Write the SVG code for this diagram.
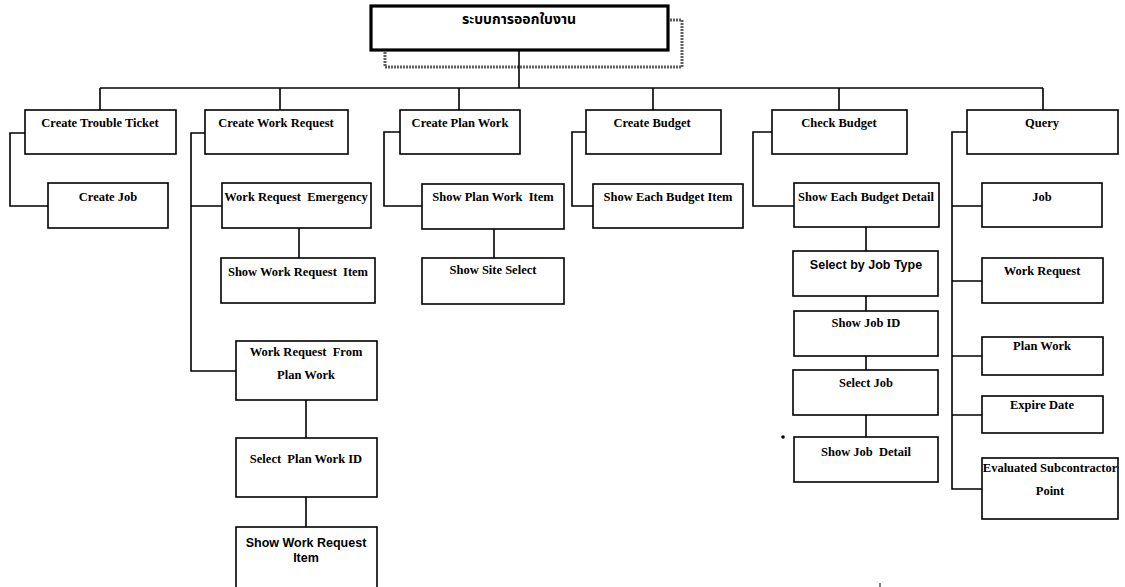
<svg xmlns="http://www.w3.org/2000/svg" width="1125" height="587" viewBox="0 0 1125 587">
  <style>
    .box { fill: #ffffff; stroke: #000000; stroke-width: 1.6; }
    .title-box { fill: #ffffff; stroke: #000000; stroke-width: 3.2; }
    .shadow { fill: none; stroke: #5e5e5e; stroke-width: 3; stroke-dasharray: 2 1; }
    .conn path { fill: none; stroke: #000000; stroke-width: 1.6; }
    text { font-family: "Liberation Serif", "Times New Roman", serif; font-size: 12.5px; font-weight: bold; fill: #000000; text-anchor: middle; white-space: pre; }
    text.sans { font-family: "Liberation Sans", Arial, sans-serif; font-size: 12.5px; }
    text.thai { font-family: "Noto Sans Thai", "Tlwg Typo", "Loma", "Garuda", "DejaVu Sans", sans-serif; font-size: 14px; }
  </style>

  <!-- root node with its offset frame -->
  <g id="root">
    <rect class="shadow" x="385" y="20" width="297" height="47"/>
    <rect class="title-box" x="371" y="6" width="297" height="44"/>
    <text class="thai" x="519" y="24">ระบบการออกใบงาน</text>
  </g>

  <!-- connectors -->
  <g id="connectors" class="conn">
    <path d="M519 50 V88"/>
    <path d="M100 88 H1043"/>
    <path d="M100 88 V110 M280 88 V110 M459 88 V110 M653 88 V110 M839 88 V110 M1043 88 V110"/>
    <!-- Create Trouble Ticket -->
    <path d="M25 133 H10 V206 H48"/>
    <!-- Create Work Request -->
    <path d="M205 133 H191 V371 H236 M191 206 H222"/>
    <path d="M299 228 V258"/>
    <path d="M306 400 V438 M306 497 V527"/>
    <!-- Create Plan Work -->
    <path d="M400 132 H384 V206 H422"/>
    <path d="M494 229 V258"/>
    <!-- Create Budget -->
    <path d="M586 132 H572 V206 H593"/>
    <!-- Check Budget -->
    <path d="M772 132 H753 V206 H794"/>
    <path d="M866 227 V251 M866 296 V311 M866 356 V370 M866 415 V437"/>
    <!-- Query -->
    <path d="M967 132 H952 V489 H982 M952 206 H982 M952 281 H982 M952 356 H982 M952 415 H982"/>
  </g>

  <!-- first level -->
  <g id="create-trouble-ticket">
    <rect class="box" x="25" y="110" width="151" height="44"/>
    <text x="100" y="127">Create Trouble Ticket</text>
  </g>
  <g id="create-work-request">
    <rect class="box" x="205" y="110" width="143" height="44"/>
    <text x="276" y="127">Create Work Request</text>
  </g>
  <g id="create-plan-work">
    <rect class="box" x="400" y="110" width="120" height="44"/>
    <text x="460" y="127">Create Plan Work</text>
  </g>
  <g id="create-budget">
    <rect class="box" x="586" y="110" width="135" height="44"/>
    <text x="652" y="127">Create Budget</text>
  </g>
  <g id="check-budget">
    <rect class="box" x="772" y="110" width="135" height="44"/>
    <text x="839" y="127">Check Budget</text>
  </g>
  <g id="query">
    <rect class="box" x="967" y="110" width="151" height="44"/>
    <text x="1042" y="127">Query</text>
  </g>

  <!-- Create Trouble Ticket branch -->
  <g id="create-job">
    <rect class="box" x="48" y="183" width="120" height="45"/>
    <text x="108" y="201">Create Job</text>
  </g>

  <!-- Create Work Request branch -->
  <g id="work-request-emergency">
    <rect class="box" x="222" y="183" width="149" height="45"/>
    <text x="296" y="201">Work Request  Emergency</text>
  </g>
  <g id="show-work-request-item">
    <rect class="box" x="221" y="258" width="154" height="45"/>
    <text x="298" y="276">Show Work Request  Item</text>
  </g>
  <g id="work-request-from-plan-work">
    <rect class="box" x="236" y="341" width="141" height="59"/>
    <text x="306" y="356">Work Request  From</text>
    <text x="306" y="379">Plan Work</text>
  </g>
  <g id="select-plan-work-id">
    <rect class="box" x="236" y="438" width="141" height="59"/>
    <text x="306" y="463">Select  Plan Work ID</text>
  </g>
  <g id="show-work-request-item-2">
    <rect class="box" x="236" y="527" width="141" height="68"/>
    <text class="sans" x="306" y="547">Show Work Request</text>
    <text class="sans" x="306" y="562">Item</text>
  </g>

  <!-- Create Plan Work branch -->
  <g id="show-plan-work-item">
    <rect class="box" x="422" y="184" width="142" height="45"/>
    <text x="493" y="201">Show Plan Work  Item</text>
  </g>
  <g id="show-site-select">
    <rect class="box" x="422" y="258" width="142" height="46"/>
    <text x="493" y="274">Show Site Select</text>
  </g>

  <!-- Create Budget branch -->
  <g id="show-each-budget-item">
    <rect class="box" x="593" y="184" width="150" height="44"/>
    <text x="668" y="201">Show Each Budget Item</text>
  </g>

  <!-- Check Budget branch -->
  <g id="show-each-budget-detail">
    <rect class="box" x="794" y="183" width="145" height="44"/>
    <text x="866" y="201">Show Each Budget Detail</text>
  </g>
  <g id="select-by-job-type">
    <rect class="box" x="793" y="251" width="145" height="45"/>
    <text class="sans" x="866" y="269">Select by Job Type</text>
  </g>
  <g id="show-job-id">
    <rect class="box" x="794" y="311" width="144" height="45"/>
    <text x="866" y="327">Show Job ID</text>
  </g>
  <g id="select-job">
    <rect class="box" x="793" y="370" width="145" height="45"/>
    <text x="866" y="387">Select Job</text>
  </g>
  <g id="show-job-detail">
    <rect class="box" x="794" y="437" width="144" height="45"/>
    <text x="866" y="456">Show Job  Detail</text>
  </g>
  <circle cx="783" cy="437" r="1.8" fill="#000000"/>
  <path d="M880 583 V587" stroke="#000000" stroke-width="1"/>

  <!-- Query branch -->
  <g id="query-job">
    <rect class="box" x="982" y="183" width="120" height="44"/>
    <text x="1042" y="201">Job</text>
  </g>
  <g id="query-work-request">
    <rect class="box" x="982" y="258" width="121" height="45"/>
    <text x="1042" y="275">Work Request</text>
  </g>
  <g id="query-plan-work">
    <rect class="box" x="982" y="337" width="121" height="38"/>
    <text x="1042" y="350">Plan Work</text>
  </g>
  <g id="query-expire-date">
    <rect class="box" x="982" y="396" width="121" height="37"/>
    <text x="1042" y="409">Expire Date</text>
  </g>
  <g id="query-evaluated-subcontractor-point">
    <rect class="box" x="982" y="458" width="136" height="61"/>
    <text x="1050" y="472">Evaluated Subcontractor</text>
    <text x="1050" y="495">Point</text>
  </g>
</svg>
